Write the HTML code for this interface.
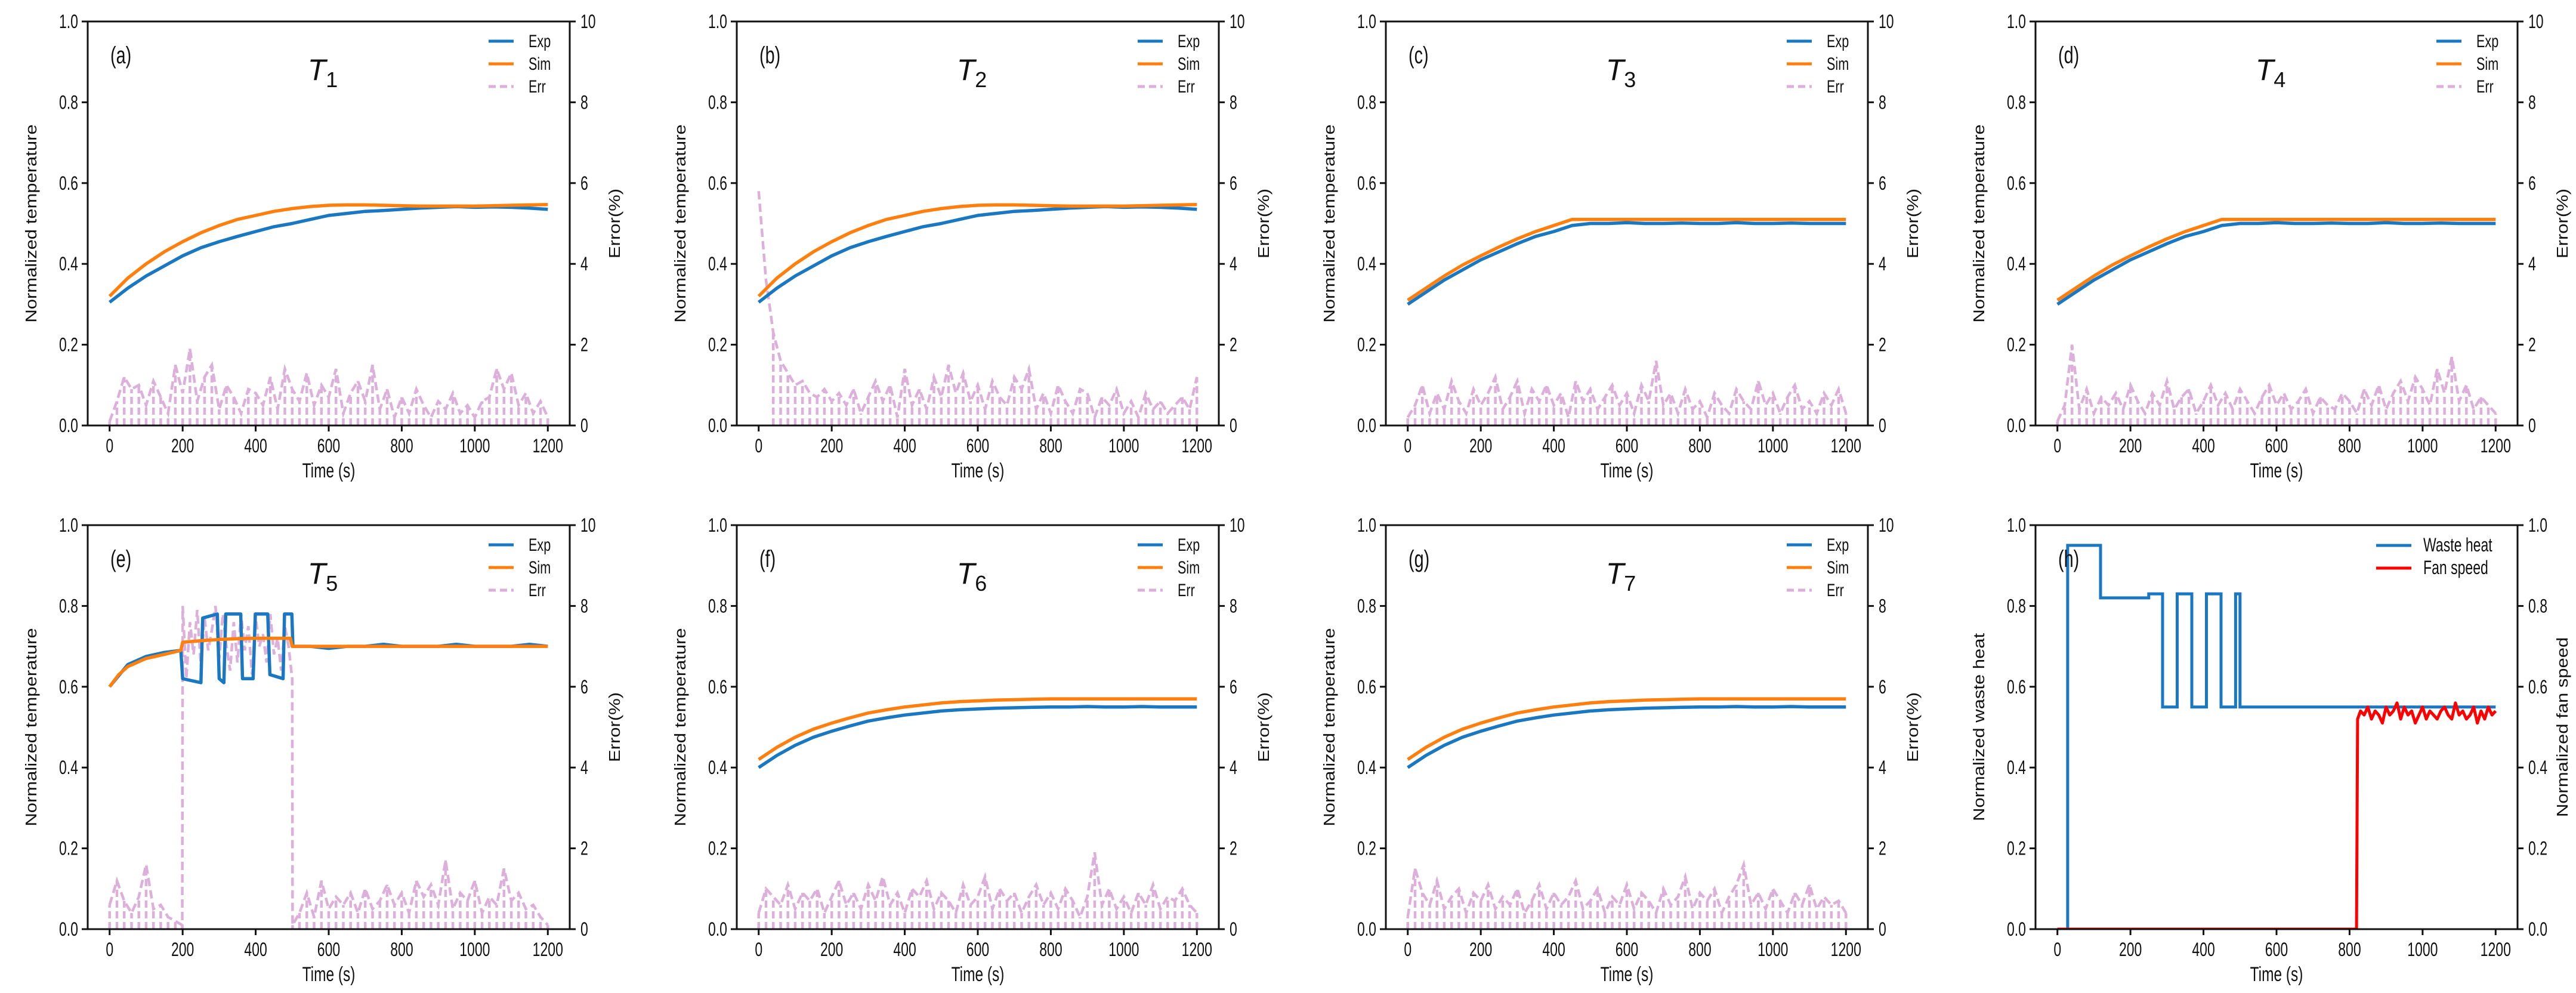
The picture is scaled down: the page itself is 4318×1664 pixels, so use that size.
<!DOCTYPE html>
<html><head><meta charset="utf-8"><style>
html,body{margin:0;padding:0;background:#fff;}
svg{display:block;font-family:"Liberation Sans",sans-serif;}
</style></head><body>
<svg id="fig" xmlns="http://www.w3.org/2000/svg" width="4318" height="1664" viewBox="0 0 4318 1664"></svg>
<script>
// ---------- data ----------
const errTimeStd = [0,20,40,60,80,100,120,140,160,180,200,220,240,260,280,300,320,340,360,380,400,420,440,460,480,500,520,540,560,580,600,620,640,660,680,700,720,740,760,780,800,820,840,860,880,900,920,940,960,980,1000,1020,1040,1060,1080,1100,1120,1140,1160,1180,1200];
const timeStd = [0,50,100,150,200,250,300,350,400,450,500,550,600,650,700,750,800,850,900,950,1000,1050,1100,1150,1200];

const aExp = [0.305,0.34,0.37,0.395,0.42,0.44,0.455,0.468,0.48,0.492,0.50,0.51,0.52,0.525,0.53,0.532,0.535,0.538,0.54,0.542,0.54,0.541,0.54,0.538,0.535];
const aSim = [0.32,0.365,0.40,0.43,0.455,0.477,0.495,0.51,0.52,0.53,0.537,0.542,0.545,0.546,0.546,0.545,0.544,0.543,0.543,0.543,0.543,0.544,0.545,0.546,0.547];
const aErr = [0.1,0.6,1.2,0.9,1.0,0.5,1.1,0.7,0.3,1.5,0.8,1.9,0.6,1.2,1.5,0.4,1.0,0.7,0.3,0.9,0.8,0.5,1.2,0.4,1.4,0.9,0.6,1.3,0.5,1.0,0.7,1.4,0.3,0.8,1.1,0.6,1.5,0.4,0.9,0.2,0.7,0.3,0.9,0.5,0.2,0.6,0.4,0.8,0.3,0.5,0.2,0.6,0.7,1.4,0.9,1.3,0.5,0.8,0.3,0.6,0.2];

const bExp = [0.305,0.34,0.37,0.395,0.42,0.44,0.455,0.468,0.48,0.492,0.50,0.51,0.52,0.525,0.53,0.532,0.535,0.538,0.54,0.542,0.54,0.541,0.54,0.538,0.535];
const bSim = [0.32,0.365,0.40,0.43,0.455,0.477,0.495,0.51,0.52,0.53,0.537,0.542,0.545,0.546,0.546,0.545,0.544,0.543,0.543,0.543,0.543,0.544,0.545,0.546,0.547];
const bErr = [5.8,3.6,2.3,1.6,1.3,1.0,1.1,0.8,0.7,0.9,0.6,0.8,0.5,0.9,0.3,0.7,1.1,0.6,1.0,0.2,1.4,0.5,0.9,0.4,1.2,0.7,1.5,0.8,1.3,0.6,1.0,0.4,1.1,0.7,0.5,1.2,0.9,1.4,0.4,0.8,0.3,1.0,0.6,0.3,0.9,0.8,0.2,0.7,0.5,0.9,0.3,0.6,0.2,0.8,0.4,0.6,0.3,0.5,0.7,0.4,1.2];

const cExp = [0.30,0.33,0.36,0.385,0.41,0.43,0.45,0.468,0.48,0.495,0.50,0.50,0.502,0.50,0.50,0.501,0.50,0.50,0.502,0.50,0.50,0.501,0.50,0.50,0.50];
const cSim = [0.31,0.34,0.37,0.397,0.42,0.442,0.462,0.48,0.495,0.51,0.51,0.51,0.51,0.51,0.51,0.51,0.51,0.51,0.51,0.51,0.51,0.51,0.51,0.51,0.51];
const cErr = [0.2,0.5,1.0,0.3,0.8,0.4,1.1,0.6,0.3,0.9,0.5,0.8,1.2,0.4,0.7,1.1,0.3,0.9,0.6,1.0,0.5,0.8,0.2,1.1,0.6,0.9,0.4,0.7,1.0,0.5,0.8,0.3,1.0,0.6,1.6,0.5,0.8,0.3,0.9,0.4,0.6,0.2,0.8,0.5,0.3,0.9,0.6,0.4,1.1,0.5,0.8,0.3,0.7,1.0,0.4,0.6,0.3,0.8,0.5,0.9,0.3];

const dExp = [0.30,0.33,0.36,0.385,0.41,0.43,0.45,0.468,0.48,0.495,0.50,0.50,0.502,0.50,0.50,0.501,0.50,0.50,0.502,0.50,0.50,0.501,0.50,0.50,0.50];
const dSim = [0.31,0.34,0.37,0.397,0.42,0.442,0.462,0.48,0.495,0.51,0.51,0.51,0.51,0.51,0.51,0.51,0.51,0.51,0.51,0.51,0.51,0.51,0.51,0.51,0.51];
const dErr = [0.1,0.5,2.0,0.4,0.9,0.3,0.7,0.5,0.8,0.4,1.0,0.6,0.3,0.8,0.5,1.1,0.4,0.7,0.9,0.3,0.6,1.0,0.5,0.8,0.4,0.9,0.6,0.3,0.7,1.0,0.5,0.8,0.4,0.6,0.9,0.3,0.7,0.5,0.4,0.8,0.6,0.3,0.9,0.5,1.0,0.4,0.8,1.1,0.6,1.2,0.9,0.5,1.4,0.8,1.7,0.6,1.0,0.4,0.7,0.5,0.3];

const eExpTime = [0,50,100,150,195,200,250,255,295,300,313,318,359,364,393,399,433,439,475,479,499,502,550,600,650,700,750,800,850,900,950,1000,1050,1100,1150,1200];
const eExp = [0.60,0.655,0.675,0.685,0.69,0.62,0.61,0.77,0.78,0.62,0.61,0.78,0.78,0.62,0.62,0.78,0.78,0.63,0.62,0.78,0.78,0.70,0.70,0.695,0.70,0.70,0.705,0.70,0.70,0.70,0.705,0.70,0.70,0.70,0.705,0.70];
const eSimTime = [0,25,50,100,150,195,200,250,300,350,400,450,495,500,600,700,800,900,1000,1100,1200];
const eSim = [0.60,0.63,0.65,0.67,0.68,0.69,0.71,0.714,0.717,0.719,0.72,0.72,0.72,0.70,0.70,0.70,0.70,0.70,0.70,0.70,0.70];
const eErrTime = [0,20,40,60,80,100,120,140,160,180,199,200,210,220,230,240,250,260,270,280,290,300,310,320,330,340,350,360,370,380,390,400,410,420,430,440,450,460,470,480,490,500,501,520,540,560,580,600,620,640,660,680,700,720,740,760,780,800,820,840,860,880,900,920,940,960,980,1000,1020,1040,1060,1080,1100,1120,1140,1160,1180,1200];
const eErr = [0.6,1.2,0.7,0.4,0.8,1.6,0.5,0.6,0.3,0.2,0.1,8.0,6.2,7.6,6.8,7.9,6.5,7.7,6.9,7.4,8.0,6.7,7.8,7.0,6.4,7.6,6.6,7.8,6.9,7.5,6.3,7.7,7.0,7.3,6.6,7.8,6.8,7.2,6.4,7.5,7.0,6.2,0.1,0.4,0.9,0.3,1.2,0.5,0.8,0.6,0.9,0.4,1.0,0.5,0.7,1.1,0.6,0.9,0.4,1.2,0.8,1.1,0.6,1.7,0.5,0.9,0.7,1.2,0.4,0.8,0.6,1.5,0.7,0.9,0.5,0.6,0.3,0.1];

const fExp = [0.40,0.43,0.455,0.475,0.49,0.503,0.515,0.523,0.53,0.535,0.54,0.543,0.545,0.547,0.548,0.549,0.55,0.55,0.551,0.55,0.55,0.551,0.55,0.55,0.55];
const fSim = [0.42,0.45,0.475,0.495,0.51,0.523,0.535,0.543,0.55,0.555,0.56,0.563,0.565,0.567,0.568,0.569,0.57,0.57,0.57,0.57,0.57,0.57,0.57,0.57,0.57];
const fErr = [0.4,1.0,0.8,0.6,1.1,0.5,0.9,0.7,1.0,0.4,0.8,1.2,0.6,0.9,0.5,1.1,0.7,1.3,0.6,0.9,0.4,1.0,0.8,1.2,0.5,0.9,0.7,0.4,1.1,0.6,0.8,1.3,0.5,1.0,0.7,0.9,0.4,0.8,1.1,0.6,0.9,0.5,1.0,0.7,0.3,0.8,1.9,0.6,1.0,0.5,0.8,0.4,0.9,0.6,1.1,0.5,0.8,0.7,1.0,0.6,0.4];

const gExp = [0.40,0.43,0.455,0.475,0.49,0.503,0.515,0.523,0.53,0.535,0.54,0.543,0.545,0.547,0.548,0.549,0.55,0.55,0.551,0.55,0.55,0.551,0.55,0.55,0.55];
const gSim = [0.42,0.45,0.475,0.495,0.51,0.523,0.535,0.543,0.55,0.555,0.56,0.563,0.565,0.567,0.568,0.569,0.57,0.57,0.57,0.57,0.57,0.57,0.57,0.57,0.57];
const gErr = [0.3,1.5,0.9,0.6,1.2,0.5,0.8,1.0,0.4,0.9,0.7,1.1,0.5,0.8,0.6,1.0,0.4,0.7,1.1,0.5,0.9,0.6,0.8,1.2,0.5,0.7,1.0,0.4,0.8,0.6,1.1,0.5,0.9,0.7,0.4,1.0,0.6,0.8,1.3,0.5,0.9,0.7,1.0,0.4,0.8,1.1,1.6,0.6,0.9,0.5,1.0,0.7,0.4,0.9,0.6,1.1,0.5,0.8,0.6,0.7,0.4];

const wasteTime = [0,28,118,250,288,328,368,408,448,488,500,1200];
const wasteVal = [0,0.95,0.82,0.83,0.55,0.83,0.55,0.83,0.55,0.83,0.55,0.55];
const fanTime = [0,819,822,830,840,850,860,870,880,890,900,910,920,930,940,950,960,970,980,990,1000,1010,1020,1030,1040,1050,1060,1070,1080,1090,1100,1110,1120,1130,1140,1150,1160,1170,1180,1190,1200];
const fanVal = [0,0,0.52,0.54,0.53,0.55,0.52,0.54,0.53,0.51,0.55,0.53,0.54,0.56,0.52,0.55,0.53,0.54,0.51,0.53,0.55,0.52,0.54,0.53,0.52,0.54,0.55,0.53,0.52,0.56,0.53,0.54,0.52,0.53,0.55,0.51,0.54,0.52,0.55,0.53,0.54];

const xTicks = [0,200,400,600,800,1000,1200];
const yTicks = [0,0.2,0.4,0.6,0.8,1.0];
const yTickLabels = ["0.0","0.2","0.4","0.6","0.8","1.0"];
const errTicks = [0,2,4,6,8,10];
const errTickLabels = ["0","2","4","6","8","10"];

// ---------- drawing ----------
const NS = "http://www.w3.org/2000/svg";
const svg = document.getElementById("fig");
const BLUE = "#1a78c2", ORANGE = "#ff7f0e", PINK = "#dcb0da", RED = "#ff0000";
const SX = 0.72;
function el(tag, attrs, parent) {
  const e = document.createElementNS(NS, tag);
  for (const k in attrs) e.setAttribute(k, attrs[k]);
  parent.appendChild(e);
  return e;
}
function txt(parent, x, y, s, size, anchor) {
  const t = el("text", {transform: "translate(" + x + "," + y + ") scale(" + SX + ",1)", "font-size": size, "text-anchor": anchor || "start", fill: "#111"}, parent);
  t.textContent = s;
  return t;
}
function vtxt(parent, x, y, s, size) {
  const t = el("text", {transform: "translate(" + x + "," + y + ") rotate(-90) scale(1,0.85)", "font-size": size, "text-anchor": "middle", fill: "#111"}, parent);
  t.textContent = s;
  return t;
}

const lefts = [147, 1235, 2323, 3412];
const tops = [36, 880];
const W = 808, H = 677;
const XMIN = -60, XMAX = 1260;

const panels = [
  {key:"a", letter:"(a)", sub:"1", expT:timeStd, exp:aExp, simT:timeStd, sim:aSim, errT:errTimeStd, err:aErr},
  {key:"b", letter:"(b)", sub:"2", expT:timeStd, exp:bExp, simT:timeStd, sim:bSim, errT:errTimeStd, err:bErr},
  {key:"c", letter:"(c)", sub:"3", expT:timeStd, exp:cExp, simT:timeStd, sim:cSim, errT:errTimeStd, err:cErr},
  {key:"d", letter:"(d)", sub:"4", expT:timeStd, exp:dExp, simT:timeStd, sim:dSim, errT:errTimeStd, err:dErr},
  {key:"e", letter:"(e)", sub:"5", expT:eExpTime, exp:eExp, simT:eSimTime, sim:eSim, errT:eErrTime, err:eErr},
  {key:"f", letter:"(f)", sub:"6", expT:timeStd, exp:fExp, simT:timeStd, sim:fSim, errT:errTimeStd, err:fErr},
  {key:"g", letter:"(g)", sub:"7", expT:timeStd, exp:gExp, simT:timeStd, sim:gSim, errT:errTimeStd, err:gErr},
  {key:"h", letter:"(h)", sub:null}
];

function pathFrom(ts, vs, xs, ys, step) {
  let d = "";
  for (let i = 0; i < ts.length; i++) {
    const x = xs(ts[i]), y = ys(vs[i]);
    if (i === 0) d += "M" + x.toFixed(1) + "," + y.toFixed(1);
    else {
      if (step) d += "L" + x.toFixed(1) + "," + ys(vs[i-1]).toFixed(1);
      d += "L" + x.toFixed(1) + "," + y.toFixed(1);
    }
  }
  return d;
}
// short noise stems under low error values only
function stemsFrom(ts, vs, xs, ys) {
  let d = "";
  for (let i = 0; i < ts.length; i++) {
    if (vs[i] > 2.5) continue;
    const x = xs(ts[i]);
    d += "M" + x.toFixed(1) + "," + ys(0).toFixed(1) + "L" + x.toFixed(1) + "," + ys(vs[i]).toFixed(1);
  }
  return d;
}

panels.forEach((p, idx) => {
  const L = lefts[idx % 4], T = tops[Math.floor(idx / 4)], R = L + W, B = T + H;
  const xs = t => L + (t - XMIN) / (XMAX - XMIN) * W;
  const ys = v => B - v * H;
  const es = v => B - v / 10 * H;
  const g = el("g", {}, svg);
  
  
  const clipId = "clip" + p.key;
  const cp = el("clipPath", {id: clipId}, g);
  el("rect", {x: L, y: T, width: W, height: H}, cp);
  const plot = el("g", {"clip-path": "url(#" + clipId + ")"}, g);
  
  

  const isH = p.key === "h";
  if (!isH) {
    const st = el("path", {d: stemsFrom(p.errT, p.err, xs, es), fill: "none", stroke: PINK, "stroke-width": 4.5, "stroke-dasharray": "12,6"}, plot);
    
    
    const pe = el("path", {d: pathFrom(p.errT, p.err, xs, es), fill: "none", stroke: PINK, "stroke-width": 4.5, "stroke-dasharray": "14,7"}, plot);
    
    
    const px = el("path", {d: pathFrom(p.expT, p.exp, xs, ys), fill: "none", stroke: BLUE, "stroke-width": 5.5, "stroke-linejoin": "round"}, plot);
    
    
    const ps = el("path", {d: pathFrom(p.simT, p.sim, xs, ys), fill: "none", stroke: ORANGE, "stroke-width": 5.5, "stroke-linejoin": "round"}, plot);
    
    
  } else {
    const pw = el("path", {d: pathFrom(wasteTime, wasteVal, xs, ys, true), fill: "none", stroke: BLUE, "stroke-width": 5}, plot);
    
    
    const pf = el("path", {d: pathFrom(fanTime, fanVal, xs, ys), fill: "none", stroke: RED, "stroke-width": 5, "stroke-linejoin": "round"}, plot);
    
    
  }

  const fr = el("rect", {x: L, y: T, width: W, height: H, fill: "none", stroke: "#111", "stroke-width": 3}, g);
  
  

  xTicks.forEach(t => {
    const x = xs(t);
    el("line", {x1: x, y1: B, x2: x, y2: B + 10, stroke: "#111", "stroke-width": 3}, g);
    const tl = txt(g, x, B + 45, String(t), 32, "middle");
    
    
  });
  yTicks.forEach((v, i) => {
    const y = ys(v);
    el("line", {x1: L - 10, y1: y, x2: L, y2: y, stroke: "#111", "stroke-width": 3}, g);
    const tl = txt(g, L - 16, y + 11, yTickLabels[i], 32, "end");
    
    
  });
  const rLabels = isH ? yTickLabels : errTickLabels;
  rLabels.forEach((s, i) => {
    const y = B - i / 5 * H;
    el("line", {x1: R, y1: y, x2: R + 10, y2: y, stroke: "#111", "stroke-width": 3}, g);
    const tl = txt(g, R + 18, y + 11, s, 32, "start");
    
    
  });

  const xl = txt(g, L + W / 2, B + 87, "Time (s)", 34, "middle");
  
  
  const yl = vtxt(g, L - 86, T + H / 2, isH ? "Normalized waste heat" : "Normalized temperature", 31);
  
  
  const ry = vtxt(g, R + 84, T + H / 2, isH ? "Normalized fan speed" : "Error(%)", 31);
  
  

  const lt = txt(g, L + 38, T + 70, p.letter, 40, "start");
  
  

  if (!isH) {
    const tt = el("text", {x: L + W / 2 - 10, y: T + 98, "font-size": 50, "font-style": "italic", "text-anchor": "middle", fill: "#111"}, g);
    
    
    tt.textContent = "T";
    const sb = el("tspan", {"font-size": 36, "font-style": "normal", dy: 12}, tt);
    sb.textContent = p.sub;

    const lg = el("g", {}, g);
    
    
    const items = [["Exp", BLUE, null], ["Sim", ORANGE, null], ["Err", PINK, "14,7"]];
    items.forEach((it, i) => {
      const y = T + 33 + i * 38;
      const ln = el("line", {x1: R - 136, y1: y, x2: R - 94, y2: y, stroke: it[1], "stroke-width": 5}, lg);
      if (it[2]) ln.setAttribute("stroke-dasharray", "12,7");
      const t = txt(lg, R - 69, y + 10, it[0], 30, "start");
      
      
    });
  } else {
    const lg = el("g", {}, g);
    
    
    [["Waste heat", BLUE], ["Fan speed", RED]].forEach((it, i) => {
      const y = T + 34 + i * 38;
      el("line", {x1: R - 237, y1: y, x2: R - 178, y2: y, stroke: it[1], "stroke-width": 5}, lg);
      const t = txt(lg, R - 158, y + 10, it[0], 32, "start");
      
      
    });
  }
});
</script>
</body></html>
